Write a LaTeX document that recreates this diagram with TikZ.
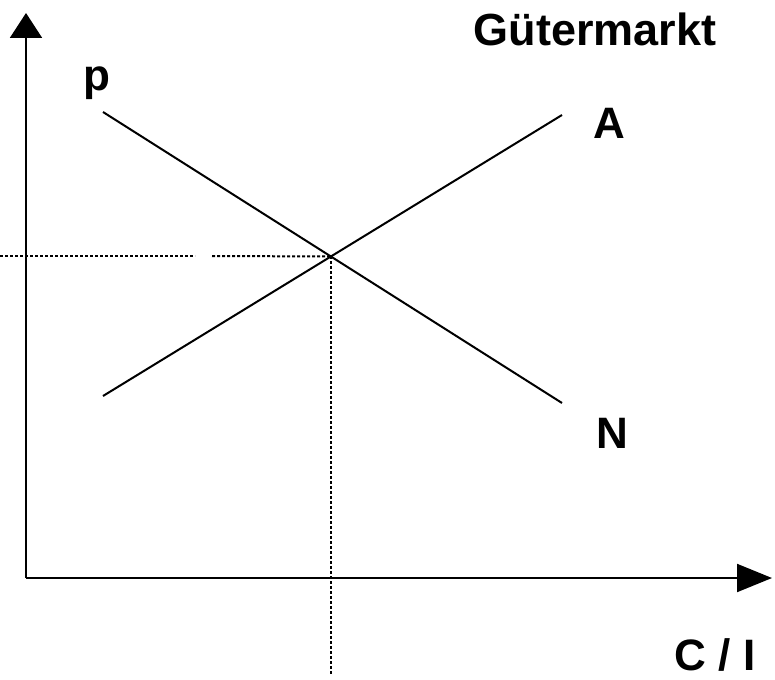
\documentclass[tikz,border=0pt]{standalone}
\usepackage{fontspec}
\setmainfont{Liberation Sans}
\usetikzlibrary{arrows.meta}
\tikzset{
  axisline/.style={line width=2pt,black},
  curveline/.style={line width=2pt,black},
  guideline/.style={line width=2pt,black,dash pattern=on 3pt off 2pt},
  biglabel/.style={anchor=base,inner sep=0pt,font=\fontsize{44}{50}\selectfont\bfseries},
  titlelabel/.style={anchor=base,inner sep=0pt,font=\fontsize{45}{52}\selectfont\bfseries},
}

\begin{document}
\begin{tikzpicture}[x=1pt,y=-1pt]
  \useasboundingbox (0,0) rectangle (775,679);
  % axes
  \coordinate (nO) at (26,578);
  \coordinate (nYtip) at (26,13);
  \coordinate (nXtip) at (772,578);
  \draw[axisline,-{Triangle[length=25pt,width=32pt]}] (nO) -- (nYtip);
  \draw[axisline,-{Triangle[length=35pt,width=28pt]}] (nO) -- (nXtip);
  % supply and demand
  \coordinate (nA1) at (103,396);
  \coordinate (nA2) at (562,115);
  \coordinate (nN1) at (103,112);
  \coordinate (nN2) at (562,403);
  \draw[curveline] (nA1) -- (nA2);
  \draw[curveline] (nN1) -- (nN2);
  \coordinate (nE) at (intersection of nA1--nA2 and nN1--nN2);
  % guides
  \coordinate (nH0) at (0,256);
  \coordinate (nH1) at (195,256);
  \coordinate (nH2) at (212,256);
  \coordinate (nV) at (334,675);
  \draw[guideline] (nH0) -- (nH1);
  \draw[guideline] (nH2) -- (nE);
  \draw[guideline] (nE) -- (nE |- nV);
  % labels
  \node[titlelabel] (nTitle) at (595,46) {Gütermarkt};
  \node[biglabel] (nP) at (97,91) {p};
  \node[biglabel] (nA) at (609,139) {A};
  \node[biglabel] (nN) at (612,448) {N};
  \node[biglabel] (nCI) at (715,670) {C / I};
\end{tikzpicture}
\end{document}
